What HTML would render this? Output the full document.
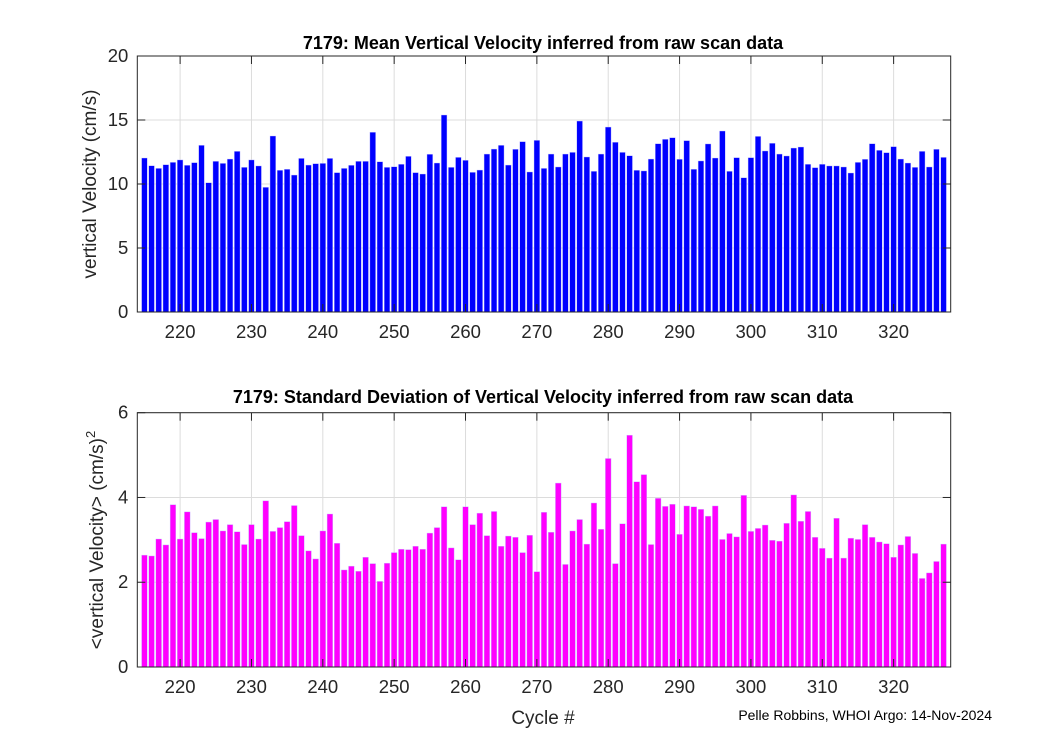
<!DOCTYPE html>
<html><head><meta charset="utf-8"><style>
body{margin:0;background:#fff}
svg text{font-family:"Liberation Sans",sans-serif;fill:#262626}
</style></head><body>
<svg id="fig" width="1050" height="750" xmlns="http://www.w3.org/2000/svg">
<rect width="1050" height="750" fill="#fff"/>
<g id="top"></g>
<g id="bot"></g>
<text x="543" y="49" text-anchor="middle" font-size="18" font-weight="bold" style="fill:#000">7179: Mean Vertical Velocity inferred from raw scan data</text>
<text x="543" y="403" text-anchor="middle" font-size="18" font-weight="bold" style="fill:#000">7179: Standard Deviation of Vertical Velocity inferred from raw scan data</text>
<text transform="translate(96,184) rotate(-90)" text-anchor="middle" font-size="19">vertical Velocity (cm/s)</text>
<text transform="translate(103,540) rotate(-90)" text-anchor="middle" font-size="19">&lt;vertical Velocity&gt; (cm/s)<tspan dy="-8" font-size="13">2</tspan></text>
<text x="543" y="724" text-anchor="middle" font-size="19">Cycle #</text>
<text x="992" y="720" text-anchor="end" font-size="14" style="fill:#000">Pelle Robbins, WHOI Argo: 14-Nov-2024</text>
</svg>
<script>
const cycles=[];for(let c=215;c<=327;c++)cycles.push(c);
const meanVel=[12.03,11.43,11.22,11.51,11.69,11.88,11.46,11.67,13.02,10.10,11.77,11.61,11.95,12.55,11.30,11.88,11.41,9.74,13.75,11.07,11.15,10.70,12.0,11.48,11.59,11.61,12.0,10.89,11.22,11.46,11.77,11.77,14.04,11.74,11.30,11.35,11.54,12.16,10.89,10.78,12.32,11.64,15.39,11.30,12.08,11.85,10.91,11.09,12.34,12.73,13.02,11.48,12.71,13.31,10.94,
13.41,11.22,12.34,11.33,12.34,12.47,14.92,12.11,10.99,12.34,14.45,13.26,12.47,12.21,11.07,11.02,11.95,13.15,13.49,13.62,11.93,13.39,11.15,11.80,13.13,12.03,14.14,10.99,12.06,10.49,12.06,13.72,12.58,13.18,12.34,12.19,12.81,12.89,11.54,11.28,11.54,11.41,11.41,11.33,10.86,11.69,11.93,13.15,12.63,12.45,12.92,11.95,11.64,11.30,12.55,11.33,12.71,12.08];
const stdVel=[2.64,2.62,3.02,2.88,3.83,3.02,3.66,3.17,3.03,3.42,3.48,3.21,3.36,3.19,2.89,3.36,3.02,3.92,3.20,3.29,3.43,3.81,3.10,2.74,2.55,3.21,3.61,2.92,2.29,2.38,2.26,2.59,2.44,2.02,2.45,2.70,2.78,2.77,2.85,2.78,3.16,3.29,3.78,2.81,2.53,3.78,3.36,3.63,3.10,3.67,2.85,3.09,3.06,2.70,3.11,
2.25,3.65,3.18,4.34,2.42,3.21,3.48,2.90,3.87,3.25,4.92,2.44,3.38,5.47,4.37,4.54,2.89,3.98,3.79,3.84,3.13,3.80,3.78,3.72,3.56,3.80,3.01,3.15,3.07,4.05,3.20,3.27,3.35,2.99,2.97,3.39,4.06,3.44,3.67,3.06,2.80,2.57,3.51,2.57,3.04,3.01,3.36,3.06,2.95,2.91,2.59,2.88,3.08,2.68,2.09,2.22,2.49,2.90];
const xTicks=[220,230,240,250,260,270,280,290,300,310,320];
const topYTicks=[0,5,10,15,20];
const botYTicks=[0,2,4,6];
const NS='http://www.w3.org/2000/svg';
function mk(p,t,a){const e=document.createElementNS(NS,t);for(const k in a)e.setAttribute(k,a[k]);p.appendChild(e);return e;}
const X0=137.3,X1=950.7,XMIN=214,XMAX=328;
const xs=v=>X0+(v-XMIN)/(XMAX-XMIN)*(X1-X0);
function draw(g,top,bottom,ymax,yt,vals,color,name){
  const ys=v=>bottom-v/ymax*(bottom-top);
  for(const t of xTicks){const l=mk(g,'line',{x1:xs(t),x2:xs(t),y1:top,y2:bottom,stroke:'#dcdcdc','stroke-width':1});
    
    }
  for(const t of yt){const l=mk(g,'line',{x1:X0,x2:X1,y1:ys(t),y2:ys(t),stroke:'#dcdcdc','stroke-width':1});
    
    }
  const bw=(X1-X0)/(XMAX-XMIN)*0.8;
  cycles.forEach((c,i)=>{const r=mk(g,'rect',{x:xs(c)-bw/2,y:ys(vals[i]),width:bw,height:bottom-ys(vals[i]),fill:color,stroke:'#c8c8ff','stroke-width':0.4});
    
    });
  const b=mk(g,'rect',{x:X0,y:top,width:X1-X0,height:bottom-top,fill:'none',stroke:'#262626','stroke-width':1});
  
  
  for(const t of xTicks){mk(g,'line',{x1:xs(t),x2:xs(t),y1:bottom,y2:bottom-8,stroke:'#262626'});mk(g,'line',{x1:xs(t),x2:xs(t),y1:top,y2:top+8,stroke:'#262626'});
    const tx=mk(g,'text',{x:xs(t),y:bottom+26,'text-anchor':'middle','font-size':18.5});tx.textContent=t;
    
    }
  for(const t of yt){mk(g,'line',{x1:X0,x2:X0+8,y1:ys(t),y2:ys(t),stroke:'#262626'});mk(g,'line',{x1:X1,x2:X1-8,y1:ys(t),y2:ys(t),stroke:'#262626'});
    const tx=mk(g,'text',{x:X0-9,y:ys(t)+6,'text-anchor':'end','font-size':18.5});tx.textContent=t;
    
    }
}
draw(document.getElementById('top'),56,312,20,topYTicks,meanVel,'#0000ff','mean');
draw(document.getElementById('bot'),412.7,667,6,botYTicks,stdVel,'#ff00ff','std');
</script>
</body></html>
